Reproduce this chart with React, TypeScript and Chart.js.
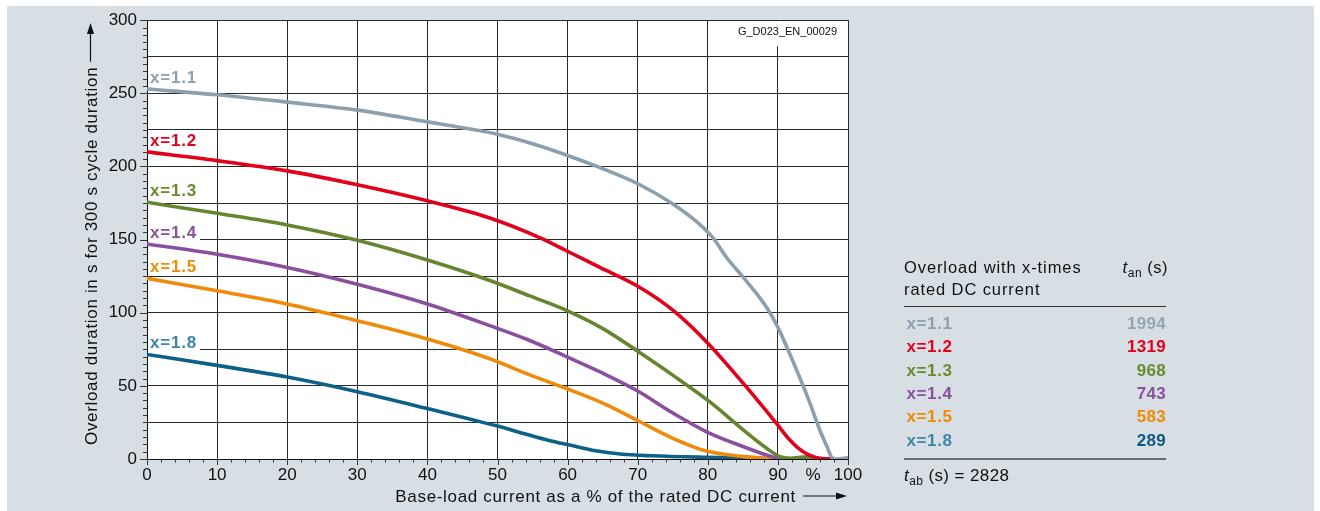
import React, { useEffect, useRef } from 'react';
import { Chart, registerables } from 'chart.js';

Chart.register(...registerables);

// ---------- data ----------
const SERIES_NAMES = ['x=1.1', 'x=1.2', 'x=1.3', 'x=1.4', 'x=1.5', 'x=1.8'];
const LINE_COLORS = ['#8c9fae', '#e2001a', '#668530', '#8a4f9f', '#f08a0a', '#0d6188'];
const LABEL_COLORS = ['#8d9fae', '#e3001b', '#6a8a2c', '#8b4f9f', '#f08a00', '#3b87a8'];
const VALUE_COLORS = ['#93a4b2', '#e3001b', '#6a8a2c', '#8b4f9f', '#f08a00', '#0f5a80'];

const X_11 = [0, 10, 20, 30, 40, 45, 50, 55, 60, 65, 70.3, 74.8, 78.6, 80.8, 82.7, 85.1, 88.4, 90, 91.5, 93, 94.5, 96, 97, 97.7, 98.3, 100];
const Y_11 = [253, 249, 244, 238.5, 230.5, 226.5, 222, 215.5, 207.5, 198.5, 187.5, 175, 161.4, 150.8, 137.6, 124, 103.6, 90, 74, 57, 39, 19.5, 8.5, 1, 0, 0.8];

const X_12 = [0, 10, 20, 30, 40, 48.9, 56.1, 59.9, 64.6, 69.9, 75.1, 80.1, 85.1, 89.8, 91.7, 93.6, 96, 98];
const Y_12 = [210, 204, 197, 187.5, 176.5, 164.8, 151.2, 142.2, 131, 118.4, 101.4, 78.7, 51.5, 24.3, 13, 5, 0.5, 0];

const X_13 = [0, 10, 20, 30, 40, 48.9, 54.6, 59.9, 65.1, 69.9, 75.1, 80.3, 85.1, 88.4, 90.3, 91.7, 94.1, 95.5];
const Y_13 = [175.5, 168, 160, 149.5, 136, 122, 111.5, 101.5, 89, 74, 57, 39, 19.7, 7.3, 1.6, 0.5, 1.5, 0.5];

const X_14 = [0, 10, 20, 30, 40, 49, 54.6, 60, 65.1, 70, 75, 80.3, 85.1, 88.4, 90.8, 95];
const Y_14 = [147, 140, 131, 119.5, 106, 91, 81, 69.6, 58.5, 46.5, 31.5, 17.5, 8.4, 2.7, 0, 0];

const X_15 = [0, 10, 20, 30, 40, 48.9, 54.6, 59.9, 65.1, 69.9, 75.1, 79.8, 85.1, 88.4, 90];
const Y_15 = [123.5, 115, 106, 94.5, 82, 68.5, 57.5, 48, 38, 26.5, 14, 5.4, 1.6, 0.5, 0];

const X_18 = [0, 10, 20, 30, 40, 46, 50, 53.7, 57.5, 60.3, 64, 67.5, 72, 80, 88.4, 90];
const Y_18 = [71.5, 64, 56, 46, 34.5, 27.3, 22.5, 17.5, 12.5, 9.5, 5.6, 3.4, 2.2, 1.1, 0.3, 0];

const SERIES_X = [X_11, X_12, X_13, X_14, X_15, X_18];
const SERIES_Y = [Y_11, Y_12, Y_13, Y_14, Y_15, Y_18];

const T_AN = [1994, 1319, 968, 743, 583, 289];
const T_AB = 2828;

const X_TICKS = [0, 10, 20, 30, 40, 50, 60, 70, 80, 90, 95, 100];
const X_TICK_TEXT = ['0', '10', '20', '30', '40', '50', '60', '70', '80', '90', '%', '100'];
const Y_GRID = [0, 25, 50, 75, 100, 125, 150, 175, 200, 225, 250, 275, 300];
const Y_TICK_TEXT = ['0', '', '50', '', '100', '', '150', '', '200', '', '250', '', '300'];

const Y_TITLE = 'Overload duration in s for 300 s cycle duration';
const X_TITLE = 'Base-load current as a % of the rated DC current';
const DOC_ID = 'G_D023_EN_00029';

const FONT = '"Liberation Sans", Arial, sans-serif';
const GRID = '#2a2a2a';

function drawArrowLine(ctx: CanvasRenderingContext2D, x1: number, y1: number, x2: number, y2: number) {
  const ang = Math.atan2(y2 - y1, x2 - x1);
  const hl = 11, hw = 3.6;
  ctx.beginPath();
  ctx.moveTo(x1, y1);
  ctx.lineTo(x2 - Math.cos(ang) * hl, y2 - Math.sin(ang) * hl);
  ctx.lineWidth = 1.2;
  ctx.strokeStyle = '#111';
  ctx.stroke();
  ctx.beginPath();
  ctx.moveTo(x2, y2);
  ctx.lineTo(x2 - Math.cos(ang) * hl - Math.sin(ang) * hw, y2 - Math.sin(ang) * hl + Math.cos(ang) * hw);
  ctx.lineTo(x2 - Math.cos(ang) * hl + Math.sin(ang) * hw, y2 - Math.sin(ang) * hl - Math.cos(ang) * hw);
  ctx.closePath();
  ctx.fillStyle = '#111';
  ctx.fill();
}

const decoPlugin = {
  id: 'deco',
  beforeDraw(chart: any) {
    const { ctx, chartArea: a } = chart;
    ctx.save();
    ctx.fillStyle = '#ffffff';
    ctx.fillRect(a.left, a.top, a.right - a.left, a.bottom - a.top);
    ctx.restore();
  },
  beforeDatasetsDraw(chart: any) {
    const { ctx, chartArea: a } = chart;
    const xs = chart.scales.x;
    const ys = chart.scales.y;
    ctx.save();
    // document id box
    ctx.font = `11px ${FONT}`;
    const w = ctx.measureText(DOC_ID).width;
    const tx = a.right - 11 - w;
    ctx.fillStyle = '#ffffff';
    ctx.fillRect(tx - 4, a.top + 1, a.right - 1 - (tx - 4), 25);
    ctx.fillStyle = '#111';
    ctx.textBaseline = 'alphabetic';
    ctx.fillText(DOC_ID, tx, a.top + 15);
    // series labels
    ctx.font = `bold 17px ${FONT}`;
    (ctx as any).letterSpacing = '0.8px';
    SERIES_NAMES.forEach((name, i) => {
      const base = ys.getPixelForValue(SERIES_Y[i][0]) - 6;
      const top = Math.round(base - 14);
      const bot = Math.round(base + 3);
      ctx.fillStyle = '#ffffff';
      ctx.fillRect(xs.left + 1, top, 52, bot - top);
      ctx.fillStyle = LABEL_COLORS[i];
      ctx.fillText(name, xs.left + 3, base);
    });
    ctx.restore();
  },
  afterDraw(chart: any) {
    const { ctx, chartArea: a } = chart;
    const xs = chart.scales.x;
    const ys = chart.scales.y;
    ctx.save();
    // tick marks
    ctx.strokeStyle = '#333';
    ctx.lineWidth = 1;
    for (let v = 0; v <= 300; v += 5) {
      const y = Math.round(ys.getPixelForValue(v)) + 0.5;
      const len = v % 50 === 0 ? 7 : 4;
      ctx.beginPath();
      ctx.moveTo(a.left - len, y);
      ctx.lineTo(a.left, y);
      ctx.stroke();
    }
    for (let v = 0; v <= 100; v += 2) {
      const x = Math.round(xs.getPixelForValue(v)) + 0.5;
      const len = v % 10 === 0 ? 6 : 3.5;
      ctx.beginPath();
      ctx.moveTo(x, a.bottom);
      ctx.lineTo(x, a.bottom + len);
      ctx.stroke();
    }
    // axis titles
    ctx.fillStyle = '#111';
    ctx.font = `17px ${FONT}`;
    (ctx as any).letterSpacing = '0.67px';
    ctx.textBaseline = 'alphabetic';
    // y title
    ctx.save();
    ctx.translate(96.5, 445);
    ctx.rotate(-Math.PI / 2);
    ctx.textAlign = 'left';
    ctx.fillText(Y_TITLE, 0, 0);
    const wy = ctx.measureText(Y_TITLE).width;
    drawArrowLine(ctx, wy + 5, -6, 445 - 23, -6);
    ctx.restore();
    // x title
    const tip = a.right - 1;
    const arrowStart = tip - 44;
    ctx.textAlign = 'right';
    ctx.fillStyle = '#111';
    ctx.fillText(X_TITLE, arrowStart - 7, 502);
    drawArrowLine(ctx, arrowStart, 496, tip, 496);
    ctx.restore();
  },
};

function ChartCanvas() {
  const ref = useRef<HTMLCanvasElement | null>(null);
  useEffect(() => {
    if (!ref.current) return;
    const datasets = SERIES_NAMES.map((name, i) => ({
      label: name,
      data: SERIES_X[i].map((x, j) => ({ x, y: SERIES_Y[i][j] })),
      borderColor: LINE_COLORS[i],
      backgroundColor: LINE_COLORS[i],
      borderWidth: 3.6,
      pointRadius: 0,
      fill: false,
      cubicInterpolationMode: 'monotone' as const,
      borderCapStyle: 'round' as const,
      borderJoinStyle: 'round' as const,
    }));
    const chart = new Chart(ref.current, {
      type: 'line',
      data: { datasets },
      plugins: [decoPlugin],
      options: {
        animation: false,
        responsive: false,
        devicePixelRatio: 1,
        layout: { padding: { left: 0, top: 18, right: 472, bottom: 0 } },
        plugins: { legend: { display: false }, tooltip: { enabled: false }, title: { display: false } },
        scales: {
          x: {
            type: 'linear',
            min: 0,
            max: 100,
            afterBuildTicks: (s: any) => {
              s.ticks = X_TICKS.map((v) => ({ value: v }));
            },
            afterFit: (s: any) => {
              s.height = 52;
            },
            grid: {
              color: (c: any) => (c.tick && c.tick.value === 95 ? 'rgba(0,0,0,0)' : GRID),
              lineWidth: 1,
              drawTicks: false,
            },
            border: { display: true, color: '#111', width: 1 },
            ticks: {
              autoSkip: false,
              maxRotation: 0,
              padding: 6,
              color: '#111',
              font: { family: FONT, size: 17 },
              callback: (v: any) => {
                const k = X_TICKS.indexOf(Number(v));
                return k >= 0 ? X_TICK_TEXT[k] : '';
              },
            },
          },
          y: {
            type: 'linear',
            min: 0,
            max: 300,
            afterBuildTicks: (s: any) => {
              s.ticks = Y_GRID.map((v) => ({ value: v }));
            },
            afterFit: (s: any) => {
              s.width = 147;
            },
            grid: { color: GRID, lineWidth: 1, drawTicks: false },
            border: { display: true, color: '#111', width: 1 },
            ticks: {
              autoSkip: false,
              padding: 10,
              color: '#111',
              font: { family: FONT, size: 17 },
              callback: (v: any) => {
                const k = Y_GRID.indexOf(Number(v));
                return k >= 0 ? Y_TICK_TEXT[k] : '';
              },
            },
          },
        },
      },
    });
    return () => chart.destroy();
  }, []);
  return (
    <canvas
      ref={ref}
      width={1320}
      height={511}
      style={{ position: 'absolute', left: 0, top: 0, width: 1320, height: 511 }}
    />
  );
}

const abs = (o: any) => ({ position: 'absolute' as const, whiteSpace: 'nowrap' as const, ...o });

function Table() {
  const base0 = 329.5;
  const step = 23.3;
  return (
    <div style={{ fontFamily: FONT, color: '#111' }}>
      <div style={abs({ left: 904, top: 273.3 - 13.97, fontSize: 16.5, lineHeight: '16.5px', letterSpacing: '0.9px' })}>
        Overload with x-times
      </div>
      <div style={abs({ left: 904, top: 295 - 13.97, fontSize: 16.5, lineHeight: '16.5px', letterSpacing: '0.9px' })}>
        rated DC current
      </div>
      <div style={abs({ right: 1320 - 1168, top: 273.3 - 13.97, fontSize: 16.5, lineHeight: '16.5px', letterSpacing: '0.5px' })}>
        <i style={{ fontSize: 17 }}>t</i>
        <span style={{ fontSize: 12, verticalAlign: '-4px' }}>an</span> (s)
      </div>
      <div style={abs({ left: 904, top: 306, width: 262, height: 1, background: '#333' })} />
      {SERIES_NAMES.map((name, i) => (
        <React.Fragment key={name}>
          <div
            style={abs({
              left: 906.5,
              top: base0 + step * i - 14.4,
              fontSize: 17,
              lineHeight: '17px',
              fontWeight: 'bold',
              letterSpacing: '0.6px',
              color: LABEL_COLORS[i],
            })}
          >
            {name}
          </div>
          <div
            style={abs({
              right: 1320 - 1166,
              top: base0 + step * i - 14.4,
              fontSize: 17,
              lineHeight: '17px',
              fontWeight: 'bold',
              letterSpacing: '0.3px',
              color: VALUE_COLORS[i],
            })}
          >
            {T_AN[i]}
          </div>
        </React.Fragment>
      ))}
      <div style={abs({ left: 904, top: 458, width: 262, height: 2, background: '#6b6b6b' })} />
      <div style={abs({ left: 904, top: 481 - 14.4, fontSize: 17, lineHeight: '17px', letterSpacing: '0.4px' })}>
        <i>t</i>
        <span style={{ fontSize: 12, verticalAlign: '-4px' }}>ab</span> (s) = {T_AB}
      </div>
    </div>
  );
}

export default function App() {
  return (
    <div>
      <div style={{ position: 'absolute', left: 7, top: 6, width: 1307, height: 505, background: '#d7dfe5' }} />
      <ChartCanvas />
      <Table />
    </div>
  );
}
